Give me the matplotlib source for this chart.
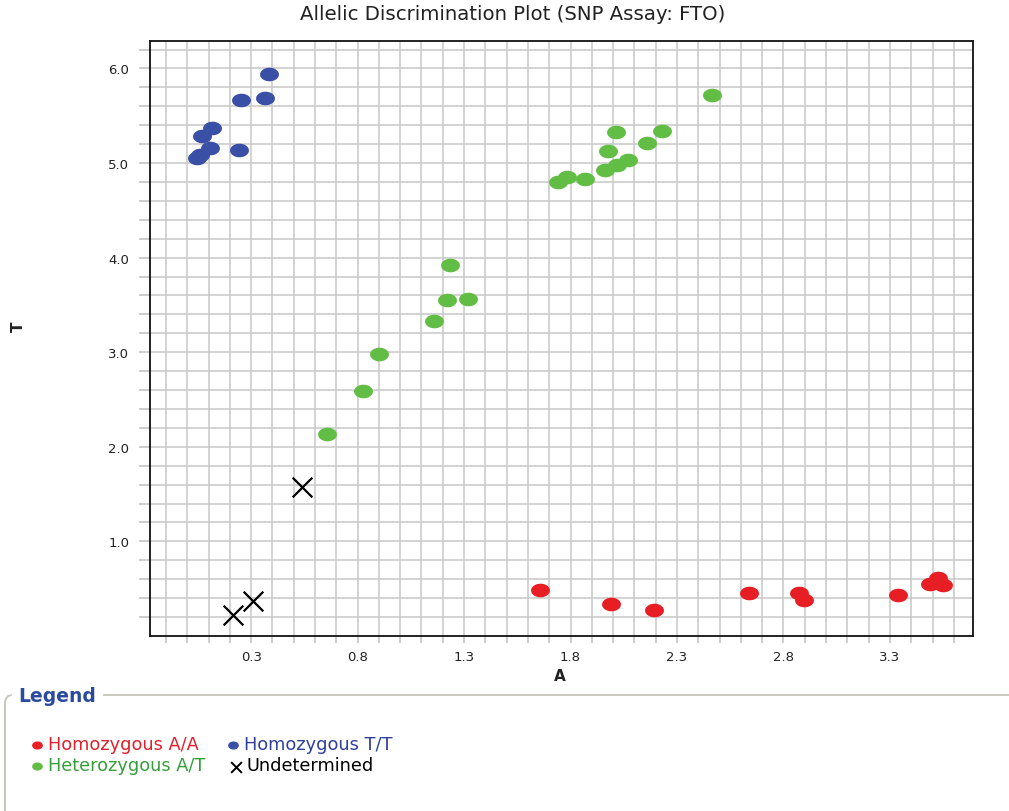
import numpy as np
import matplotlib
matplotlib.use("Agg")
import matplotlib.pyplot as plt
from matplotlib.path import Path
from matplotlib.patches import FancyBboxPatch
from matplotlib.ticker import FixedLocator

plt.rcParams['font.family'] = ['DejaVu Sans']

# ---- data ----
aa_x = [1.657, 1.989, 2.193, 2.636, 2.871, 2.896, 3.339, 3.488, 3.527, 3.550, 3.515]
aa_y = [0.49, 0.34, 0.27, 0.45, 0.45, 0.38, 0.43, 0.55, 0.61, 0.54, 0.57]

tt_x = [0.386, 0.254, 0.364, 0.115, 0.070, 0.108, 0.245, 0.045, 0.060]
tt_y = [5.94, 5.67, 5.69, 5.37, 5.29, 5.16, 5.14, 5.05, 5.09]

at_x = [2.464, 2.012, 2.231, 2.158, 1.978, 1.962, 2.017, 2.071, 1.743, 1.782, 1.868,
        1.234, 1.220, 1.319, 1.159, 0.901, 0.826, 0.657]
at_y = [5.72, 5.33, 5.34, 5.21, 5.13, 4.93, 4.98, 5.03, 4.80, 4.85, 4.83,
        3.92, 3.55, 3.56, 3.33, 2.98, 2.59, 2.14]

und_x = [0.539, 0.217, 0.311]
und_y = [1.57, 0.22, 0.37]

x_ticks = [0.3, 0.8, 1.3, 1.8, 2.3, 2.8, 3.3]
y_ticks = [1.0, 2.0, 3.0, 4.0, 5.0, 6.0]

labels = ["Homozygous A/A", "Homozygous T/T", "Heterozygous A/T", "Undetermined"]
red, blue, green = "#E81E25", "#3A4FA6", "#62BD45"

# elliptical marker
t = np.linspace(0, 2 * np.pi, 60)
verts = np.column_stack([np.cos(t), 0.72 * np.sin(t)])
ell = Path(verts, closed=True)

fig = plt.figure(figsize=(10.09, 8.12), dpi=100)
W, H = 1009, 812
ax = fig.add_axes([150 / W, 1 - 637 / H, (973 - 150) / W, (637 - 42) / H])

ax.set_xlim(-0.175, 3.69)
ax.set_ylim(0.0, 6.29)

ax.xaxis.set_major_locator(FixedLocator(x_ticks))
ax.yaxis.set_major_locator(FixedLocator(y_ticks))
ax.xaxis.set_minor_locator(FixedLocator(np.round(np.arange(-0.1, 3.65, 0.1), 2)))
ax.yaxis.set_minor_locator(FixedLocator(np.round(np.arange(0.2, 6.25, 0.2), 2)))
ax.set_xticklabels([f"{v:.1f}" for v in x_ticks])
ax.set_yticklabels([f"{v:.1f}" for v in y_ticks])
ax.grid(True, which='both', color='#c8c8c8', linewidth=1.1, zorder=0)
ax.set_axisbelow(True)
ax.tick_params(which='both', direction='out', width=1.1, color='#c0c0c0',
               labelsize=9.5, labelcolor='#222222')
ax.tick_params(axis='x', which='both', length=5, pad=5)
ax.tick_params(axis='y', which='both', length=8, pad=7)
for s in ax.spines.values():
    s.set_linewidth(1.3)
    s.set_color('#111111')

ms = 185
ax.scatter(aa_x, aa_y, marker=ell, s=ms, color=red, linewidths=0, zorder=3)
ax.scatter(tt_x, tt_y, marker=ell, s=ms, color=blue, linewidths=0, zorder=3)
ax.scatter(at_x, at_y, marker=ell, s=ms, color=green, linewidths=0, zorder=3)
ax.scatter(und_x, und_y, marker='x', s=200, color='black', linewidths=1.6, zorder=3)

fig.text(513 / W, 1 - 15 / H, "Allelic Discrimination Plot (SNP Assay: FTO)",
         ha='center', va='center', fontsize=14.2, color='#222222')
fig.text(560 / W, 1 - 677 / H, "A", ha='center', va='center', fontsize=11,
         fontweight='bold', color='#222222')
fig.text(18 / W, 1 - 327 / H, "T", ha='center', va='center', fontsize=11,
         fontweight='bold', rotation=90, color='#222222')

# ---- legend panel (pixel coordinates overlay) ----
lg = fig.add_axes([0, 0, 1, 1], zorder=-1)
lg.set_xlim(0, W)
lg.set_ylim(H, 0)
lg.axis('off')
box = FancyBboxPatch((5, 696), 1100, 200, boxstyle="round,pad=0,rounding_size=8",
                     facecolor='none', edgecolor='#c4c4bc', linewidth=1.3)
lg.add_patch(box)
lg.text(18, 697, "Legend", ha='left', va='center', fontsize=13.5, fontweight='bold',
        color='#2A4A9E', backgroundcolor='white')

fs = 12.8
lg.scatter([37], [746], marker=ell, s=45, color=red)
lg.text(48, 745, labels[0], ha='left', va='center', fontsize=fs, color='#E0202A')
lg.scatter([233], [746], marker=ell, s=45, color=blue)
lg.text(244, 745, labels[1], ha='left', va='center', fontsize=fs, color='#2E3F9E')
lg.scatter([37], [767], marker=ell, s=45, color=green)
lg.text(48, 766, labels[2], ha='left', va='center', fontsize=fs, color='#35A03A')
lg.scatter([236], [768], marker='x', s=60, color='black', linewidths=1.4)
lg.text(246, 766, labels[3], ha='left', va='center', fontsize=fs, color='black')

fig.savefig("out.png", dpi=100)
